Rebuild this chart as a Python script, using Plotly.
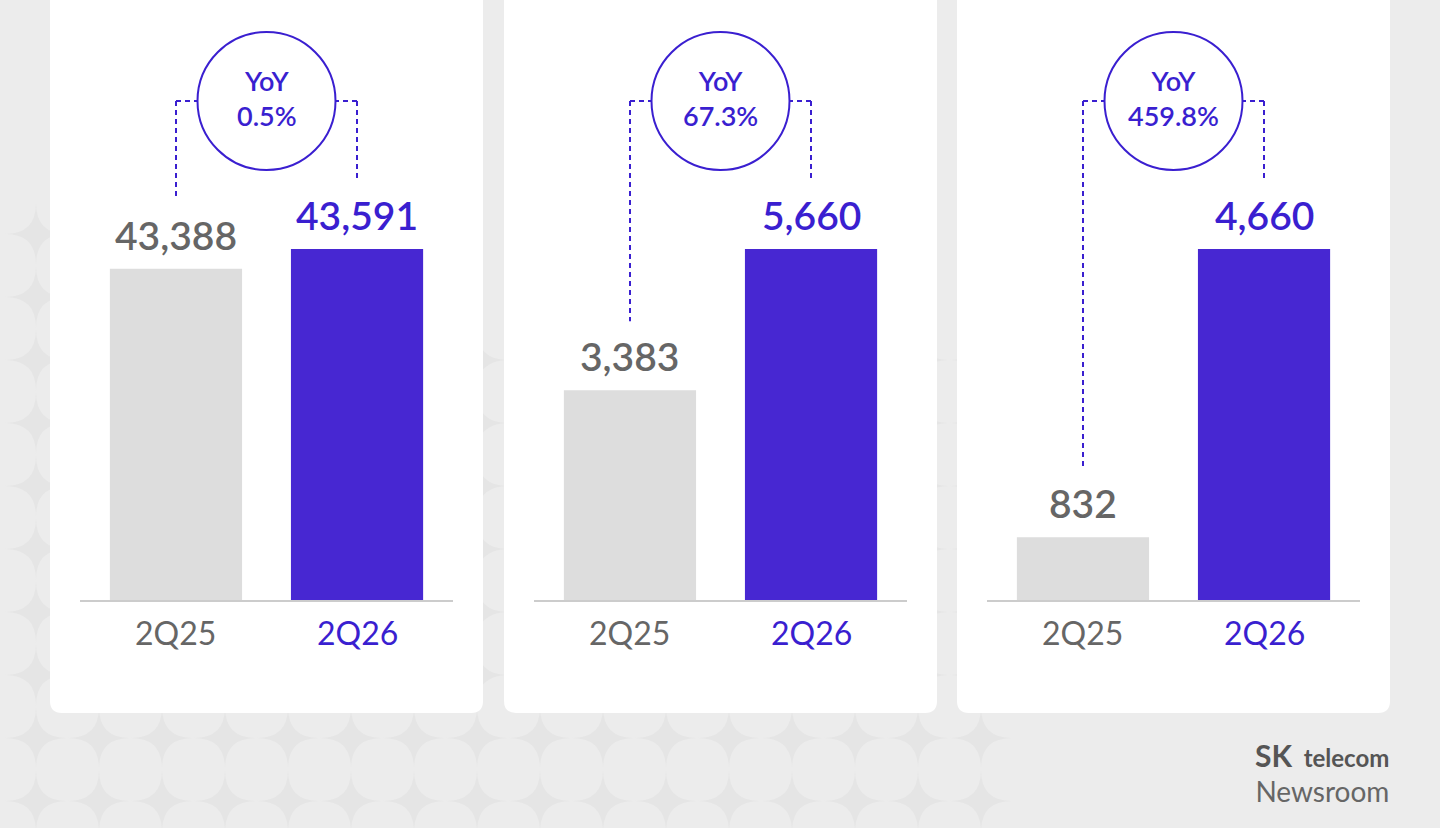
import plotly.graph_objects as go

# data
categories = ['2Q25', '2Q26']
values_1 = [43388, 43591]
values_2 = [3383, 5660]
values_3 = [832, 4660]
yoy_labels = ['0.5%', '67.3%', '459.8%']
axis_floor = [40000, 0, 0]  # first panel uses a cut axis, like the original

panels = [values_1, values_2, values_3]

W, H = 1440, 828
GRAY_BAR = '#dddddd'
PURPLE_BAR = '#4727d2'
GRAY_TXT = '#666666'
PURPLE_TXT = '#3a1fd0'
FONT = 'Lato'

card_left = [50, 504, 957]
card_w = 433
base_px = 600      # bar baseline (pixels from top)
top_px = 249       # top of the tallest bar
circle_cy = 101
circle_r = 69


def px(x):
    return x / W


def py(y):
    return 1 - y / H


def bar_top_px(val, i):
    lo, hi = axis_floor[i], max(panels[i])
    return base_px - (val - lo) / (hi - lo) * (base_px - top_px)


fig = go.Figure()
shapes = []
annotations = []

# faint background pattern: four-point gaps between rounded tiles
R = 31
star_path = ''
for gx in range(36, 1440, 63):
    for gy in range(45, 828, 63):
        if gx > 1010 or gy < 180 or (gx > 60 and gy < 340):
            continue
        pts = [(gx - R, gy), (gx, gy - R), (gx + R, gy), (gx, gy + R)]
        p = f'M {px(pts[0][0])},{py(pts[0][1])} '
        for k in range(1, 5):
            q = pts[k % 4]
            p += f'Q {px(gx)},{py(gy)} {px(q[0])},{py(q[1])} '
        star_path += p + 'Z '
shapes.append(dict(type='path', xref='paper', yref='paper', path=star_path,
                   fillcolor='#e5e5e5', line=dict(width=0), layer='below'))

# white cards
for cl in card_left:
    x0, x1 = px(cl), px(cl + card_w)
    yt, yb = py(-20), py(713)
    rx, ry = 12 / W, 12 / H
    path = (f'M {x0},{yt} L {x1},{yt} L {x1},{yb + ry} Q {x1},{yb} {x1 - rx},{yb} '
            f'L {x0 + rx},{yb} Q {x0},{yb} {x0},{yb + ry} Z')
    shapes.append(dict(type='path', xref='paper', yref='paper', path=path,
                       fillcolor='white', line=dict(width=0), layer='below'))

for i, vals in enumerate(panels):
    n = '' if i == 0 else str(i + 1)
    xa, ya = 'x' + n, 'y' + n
    fig.add_trace(go.Bar(
        x=categories, y=vals, xaxis=xa, yaxis=ya,
        marker=dict(color=[GRAY_BAR, PURPLE_BAR], line=dict(width=0)),
        width=0.73, hoverinfo='skip', showlegend=False,
    ))
    dom = [px(card_left[i] + 30), px(card_left[i] + 403)]
    fig.update_layout(**{
        'xaxis' + n: dict(domain=dom, range=[-0.53, 1.53], showticklabels=False,
                          showgrid=False, zeroline=False, showline=True,
                          linecolor='#cccccc', linewidth=1.5, anchor=ya,
                          fixedrange=True),
        'yaxis' + n: dict(domain=[py(base_px), py(top_px)],
                          range=[axis_floor[i], max(vals)], visible=False,
                          anchor=xa, fixedrange=True),
    })

    # value labels and category labels
    for j, (cat, v) in enumerate(zip(categories, vals)):
        col = GRAY_TXT if j == 0 else PURPLE_TXT
        annotations.append(dict(
            x=cat, y=v, xref=xa, yref=ya, text=f'{v:,}', showarrow=False,
            yanchor='bottom', yshift=9,
            font=dict(family=FONT, size=39, color=col, weight=600)))
        annotations.append(dict(
            x=cat, y=py(632), xref=xa, yref='paper', text=cat, showarrow=False,
            yanchor='middle', font=dict(family=FONT, size=32, color=col)))

    # YoY circle
    cx = card_left[i] + 30 + 373 / 2
    shapes.append(dict(type='circle', xref='paper', yref='paper',
                       x0=px(cx - circle_r), x1=px(cx + circle_r),
                       y0=py(circle_cy + circle_r), y1=py(circle_cy - circle_r),
                       fillcolor='white', line=dict(color=PURPLE_TXT, width=2)))
    annotations.append(dict(
        x=px(cx), y=py(circle_cy - 3), xref='paper', yref='paper',
        xanchor='center', yanchor='middle',
        text=f'YoY<br>{yoy_labels[i]}', showarrow=False,
        font=dict(family=FONT, size=27, color=PURPLE_TXT, weight=600)))

    # dashed connectors
    dash = dict(color=PURPLE_TXT, width=2, dash='5px,4px')
    for j, (cat, v) in enumerate(zip(categories, vals)):
        bx = card_left[i] + 30 + 96 + j * 181
        edge = cx - circle_r if j == 0 else cx + circle_r
        shapes.append(dict(type='line', xref='paper', yref='paper',
                           x0=px(bx), x1=px(edge), y0=py(circle_cy), y1=py(circle_cy),
                           line=dash))
        shapes.append(dict(type='line', xref='paper', yref='paper',
                           x0=px(bx), x1=px(bx), y0=py(circle_cy),
                           y1=py(bar_top_px(v, i) - 69), line=dash))

# logo, one block so the two lines don't collide
annotations.append(dict(
    x=px(1391), y=py(772), xref='paper', yref='paper', xanchor='right',
    yanchor='middle', align='right', showarrow=False,
    text=("<b><span style='font-size:30px;color:#555555'>SK</span>"
          "<span style='font-size:24px;color:#555555'>  telecom</span></b><br>"
          "<span style='font-size:28px'>Newsroom</span>"),
    font=dict(family=FONT, size=27, color='#666666')))

fig.update_layout(
    width=W, height=H,
    margin=dict(l=0, r=0, t=0, b=0),
    paper_bgcolor='#ececec', plot_bgcolor='rgba(0,0,0,0)',
    bargap=0.27,
    shapes=shapes, annotations=annotations,
)

fig.write_html('out.html', config={'displayModeBar': False},
               post_script="document.body.style.margin='0';")
